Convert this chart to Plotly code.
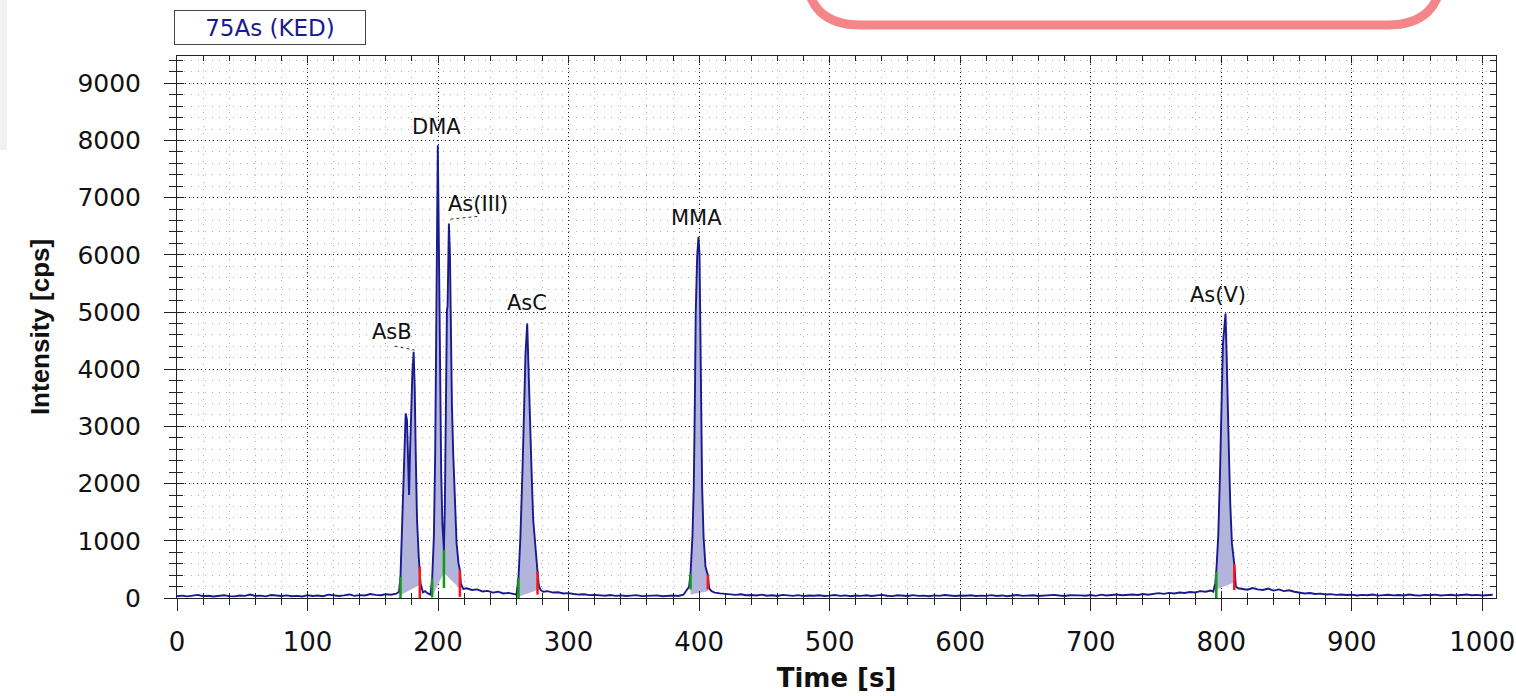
import plotly.graph_objects as go

# ---------------- data ----------------
base1_t = list(range(0, 169, 4))
base1_v = [30, 42, 28, 36, 55, 31, 40, 26, 38, 47,
           33, 29, 44, 37, 60, 35, 41, 28, 52, 39,
           34, 45, 30, 38, 27, 49, 36, 43, 31, 58,
           40, 35, 46, 62, 38, 50, 44, 70, 55, 48,
           66, 58, 75]

asb_t = [170.1, 171.2, 172.6, 173.9, 175.2, 176.2, 177.0, 177.8, 178.5, 179.6,
         180.3, 181.3, 182.1, 182.9, 183.9, 185.2, 186.0, 186.6, 188.4]
asb_v = [110, 370, 1363, 2528, 3228, 3111, 2295, 1800, 2528, 3518,
         3927, 4304, 3693, 2528, 1363, 720, 500, 250, 100]

mid1_t = [190.0, 192.4]
mid1_v = [120, 75]

dma_t = [194.2, 195.5, 196.8, 197.8, 198.6, 199.1, 199.6, 199.8, 200.3, 200.8,
         201.6, 202.4, 203.3, 204.5]
dma_v = [60, 344, 1072, 2528, 4276, 6024, 7480, 7917, 6898, 5441,
         3693, 2200, 1300, 840]

as3_t = [205.2, 205.8, 206.3, 206.8, 207.3, 207.8, 208.3, 209.1, 209.8, 210.6,
         211.6, 212.9, 214.2, 215.7, 216.7, 217.5, 219.3]
as3_v = [1600, 2800, 4276, 5033, 5100, 6024, 6548, 6024, 4567, 3402,
         2528, 1655, 955, 600, 490, 250, 160]

tail1_t = list(range(222, 259, 4))
tail1_v = [170, 140, 150, 115, 125, 95, 110, 80, 90, 70]

asc_t = [260.1, 261.6, 263.1, 264.7, 266.0, 267.0, 268.3, 269.3, 270.4, 271.6,
         272.9, 274.7, 276.2, 277.2, 278.5, 280.6]
asc_v = [60, 350, 1072, 2237, 3402, 4276, 4800, 3927, 3111, 2237,
         1363, 781, 460, 220, 140, 110]

base2_t = list(range(284, 389, 4))
base2_v = [120, 95, 100, 80, 85, 70, 60, 65, 50, 55,
           48, 40, 52, 38, 45, 35, 42, 50, 33, 40,
           37, 46, 31, 39, 44, 36, 58]

mma_t = [392.3, 393.4, 394.9, 395.9, 396.7, 397.4, 398.5, 399.5, 400.3, 400.8,
         401.3, 402.3, 403.4, 404.9, 406.7, 407.7, 409.5]
mma_v = [198, 420, 1072, 1945, 3343, 4975, 5965, 6315, 6024, 4626,
         3343, 1945, 1072, 547, 400, 169, 120]

base3_t = list(range(412, 793, 4))
base3_v = [95, 80, 70, 62, 55, 66, 48, 52, 45, 58,
           40, 47, 36, 55, 42, 38, 50, 33, 44, 39,
           48, 35, 41, 52, 37, 45, 30, 43, 38, 49,
           36, 44, 55, 39, 33, 47, 41, 35, 50, 38,
           42, 31, 46, 37, 53, 40, 35, 44, 39, 48,
           34, 41, 38, 50, 36, 45, 32, 43, 52, 37,
           40, 47, 35, 42, 38, 55, 44, 36, 49, 41,
           46, 39, 52, 37, 58, 44, 50, 62, 48, 55,
           60, 52, 70, 58, 66, 85, 72, 90, 78, 95,
           88, 105, 96, 120, 110, 130]

asv_t = [793.9, 795.4, 796.2, 797.7, 799.0, 800.2, 801.3, 802.0, 802.8, 803.3,
         804.1, 804.8, 805.9, 806.9, 808.2, 810.0, 811.2, 813.0]
asv_v = [110, 250, 460, 1072, 2120, 3402, 4451, 4626, 4800, 4975,
         4276, 3402, 2528, 1655, 955, 590, 200, 170]

base4_t = list(range(816, 1009, 4))
base4_v = [160, 145, 175, 150, 140, 165, 130, 150, 120, 135,
           110, 95, 80, 88, 70, 76, 62, 68, 55, 60,
           52, 58, 45, 55, 48, 62, 42, 50, 56, 46,
           53, 44, 60, 49, 41, 55, 47, 58, 43, 51,
           57, 45, 52, 60, 48, 55, 43, 50, 58]

# integration windows: start time, end time, baseline at start, baseline at end
peak_start = [171.2, 195.5, 204.5, 261.6, 393.4, 796.2]
peak_end = [186.0, 204.5, 216.7, 276.2, 406.7, 810.0]
peak_base_start = [52, 30, 440, 20, 60, 150]
peak_base_end = [227, 440, 160, 140, 120, 270]

# start (green) and end (red) markers: time, low, high
green_t = [171.2, 195.5, 204.5, 261.6, 393.4, 796.2]
green_lo = [0, 10, 175, 0, 150, 0]
green_hi = [370, 344, 840, 350, 420, 460]
red_t = [186.0, 216.7, 276.2, 406.7, 810.0]
red_lo = [0, 20, 60, 150, 140]
red_hi = [547, 490, 460, 400, 590]

# peak labels
label_text = ["AsB", "DMA", "As(III)", "AsC", "MMA", "As(V)"]
label_t = [164.5, 199.0, 230.4, 268.0, 398.2, 797.5]
label_v = [4649, 8231, 6886, 5155, 6641, 5295]

x_ticks = [0, 100, 200, 300, 400, 500, 600, 700, 800, 900, 1000]
y_ticks = [0, 1000, 2000, 3000, 4000, 5000, 6000, 7000, 8000, 9000]

# ---------------- assemble ----------------
segments_t = [base1_t, asb_t, mid1_t, dma_t, as3_t, tail1_t, asc_t, base2_t,
              mma_t, base3_t, asv_t, base4_t]
segments_v = [base1_v, asb_v, mid1_v, dma_v, as3_v, tail1_v, asc_v, base2_v,
              mma_v, base3_v, asv_v, base4_v]
time = [t for seg in segments_t for t in seg]
inten = [v for seg in segments_v for v in seg]

W, H = 1516, 696
L, R, T, B = 177, 20, 56, 98
PW, PH = W - L - R, H - T - B
XR = [0, 1010.5]
YR = [0, 9477]


def paper(x, y):
    return (x - L) / PW, (H - B - y) / PH


fig = go.Figure()

FILL = "#b2b4dc"
for ts, te, bs, be in zip(peak_start, peak_end, peak_base_start, peak_base_end):
    px = [t for t in time if ts - 1e-9 <= t <= te + 1e-9]
    py = [v for t, v in zip(time, inten) if ts - 1e-9 <= t <= te + 1e-9]
    fig.add_trace(go.Scatter(x=px + [te, ts], y=py + [be, bs], fill="toself",
                             fillcolor=FILL, line=dict(width=0), mode="lines",
                             hoverinfo="skip", showlegend=False))

fig.add_trace(go.Scatter(x=time, y=inten, mode="lines",
                         line=dict(color="#1a1a8e", width=1.9),
                         showlegend=False, name="75As (KED)"))


def seg_xy(ts, lo, hi):
    xs, ys = [], []
    for t, a, b in zip(ts, lo, hi):
        xs += [t, t, None]
        ys += [a, b, None]
    return xs, ys


gx, gy = seg_xy(green_t, green_lo, green_hi)
rx, ry = seg_xy(red_t, red_lo, red_hi)
fig.add_trace(go.Scatter(x=gx, y=gy, mode="lines", line=dict(color="#129a12", width=2.5),
                         showlegend=False, hoverinfo="skip"))
fig.add_trace(go.Scatter(x=rx, y=ry, mode="lines", line=dict(color="#ff1414", width=2.5),
                         showlegend=False, hoverinfo="skip"))

# dummy trace for the inside-tick overlay axes
fig.add_trace(go.Scatter(x=[None], y=[None], xaxis="x2", yaxis="y2", showlegend=False))

for txt, t, v in zip(label_text, label_t, label_v):
    fig.add_annotation(x=t, y=v, text=txt, showarrow=False,
                       font=dict(family="DejaVu Sans", size=21, color="#111111"))

# small dotted leaders
fig.add_shape(type="line", x0=166.8, y0=4404, x1=182.1, y1=4334,
              line=dict(color="#333", width=1, dash="dot"))
fig.add_shape(type="line", x0=209.5, y0=6624, x1=232.0, y1=6676,
              line=dict(color="#333", width=1, dash="dot"))

# channel box
bx, by = paper(270, 27.5)
fig.add_annotation(xref="paper", yref="paper", x=bx, y=by, xanchor="center",
                   yanchor="middle", text="75As (KED)",
                   showarrow=False, width=188, height=31, bgcolor="white",
                   bordercolor="#444", borderwidth=1, borderpad=1,
                   font=dict(family="DejaVu Sans", size=23, color="#1a1a8e"))

# pink rounded frame (cropped at top)
x0, x1, yb, r, ytop = 806, 1442, 25, 55, -40
pts = [paper(x0, ytop), paper(x0, yb - r), paper(x0, yb), paper(x0 + r, yb),
       paper(x1 - r, yb), paper(x1, yb), paper(x1, yb - r), paper(x1, ytop)]
path = ("M {0[0]},{0[1]} L {1[0]},{1[1]} Q {2[0]},{2[1]} {3[0]},{3[1]} "
        "L {4[0]},{4[1]} Q {5[0]},{5[1]} {6[0]},{6[1]} L {7[0]},{7[1]}").format(*pts)
fig.add_shape(type="path", path=path, xref="paper", yref="paper",
              line=dict(color="#f48689", width=9))

# faint grey strip at the very left edge
sx0, sy0 = paper(0, 0)
sx1, sy1 = paper(7, 150)
fig.add_shape(type="rect", xref="paper", yref="paper", x0=sx0, y0=sy0, x1=sx1, y1=sy1,
              fillcolor="#f1f1f1", line=dict(width=0), layer="below")

AX = "#222222"
fig.update_layout(
    width=W, height=H, margin=dict(l=L, r=R, t=T, b=B, autoexpand=False),
    paper_bgcolor="white", plot_bgcolor="white", showlegend=False,
    font=dict(family="DejaVu Sans", color="#111"),
    xaxis=dict(range=XR, tickmode="array", tickvals=x_ticks,
               ticktext=[str(v) for v in x_ticks], automargin=False,
               ticks="outside", ticklen=12, tickcolor=AX, tickwidth=1,
               tickfont=dict(family="DejaVu Sans", size=26, color="#111"),
               ticklabelstandoff=9,
               showline=True, linecolor=AX, linewidth=1, mirror=True,
               showgrid=True, gridcolor="#222", griddash="1px,3px", gridwidth=1,
               zeroline=False,
               minor=dict(dtick=20, ticks="outside", ticklen=6, tickcolor=AX,
                          showgrid=True, gridcolor="#b0b0b0", griddash="1px,6px"),
               title=dict(text="<b>Time [s]</b>", standoff=12,
                          font=dict(family="DejaVu Sans", size=26, color="#111"))),
    yaxis=dict(range=YR, tickmode="array", tickvals=y_ticks,
               ticktext=[str(v) for v in y_ticks], automargin=False,
               ticks="outside", ticklen=12, tickcolor=AX, tickwidth=1,
               tickfont=dict(family="DejaVu Sans", size=25, color="#111"),
               ticklabelstandoff=18,
               showline=True, linecolor=AX, linewidth=1, mirror=True,
               showgrid=True, gridcolor="#222", griddash="1px,3px", gridwidth=1,
               zeroline=False,
               minor=dict(dtick=200, ticks="outside", ticklen=7, tickcolor=AX,
                          showgrid=True, gridcolor="#b0b0b0", griddash="1px,6px"),
               title=dict(text="<b>Intensity [cps]</b>", standoff=20,
                          font=dict(family="Liberation Sans", size=26, color="#111"))),
    xaxis2=dict(overlaying="x", anchor="y2", range=XR, tickmode="array", tickvals=x_ticks,
                showticklabels=False, ticks="inside", ticklen=7, tickcolor=AX,
                mirror="ticks", showline=False, showgrid=False, zeroline=False,
                automargin=False,
                minor=dict(dtick=20, ticks="inside", ticklen=5, tickcolor=AX, showgrid=False)),
    yaxis2=dict(overlaying="y", anchor="x2", side="left", range=YR, tickmode="array",
                tickvals=y_ticks, showticklabels=False, ticks="inside", ticklen=7,
                tickcolor=AX, mirror="ticks", showline=False, showgrid=False,
                zeroline=False, automargin=False,
                minor=dict(dtick=200, ticks="inside", ticklen=6, tickcolor=AX, showgrid=False)),
)

fig.write_html("out.html")
